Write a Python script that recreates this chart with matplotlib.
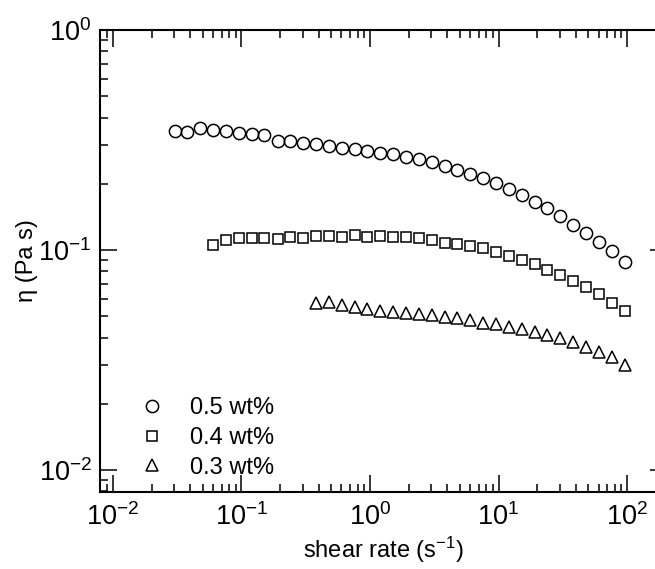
import matplotlib
matplotlib.use("Agg")
import matplotlib.pyplot as plt
from matplotlib.ticker import LogLocator, NullFormatter

plt.rcParams['font.family'] = ['Liberation Sans', 'DejaVu Sans']
plt.rcParams['mathtext.fontset'] = 'custom'
plt.rcParams['mathtext.rm'] = 'Liberation Sans'
plt.rcParams['mathtext.it'] = 'Liberation Sans:italic'
plt.rcParams['mathtext.bf'] = 'Liberation Sans:bold'

# shear rates (1/s), 10 points per decade
shear_rate = [0.0302, 0.0380, 0.0479, 0.0603, 0.0759, 0.0955, 0.120, 0.151, 0.191,
              0.240, 0.302, 0.380, 0.479, 0.603, 0.759, 0.955, 1.20, 1.51, 1.91,
              2.40, 3.02, 3.80, 4.79, 6.03, 7.59, 9.55, 12.0, 15.1, 19.1, 24.0,
              30.2, 38.0, 47.9, 60.3, 75.9, 95.5]

# viscosity (Pa s)
eta_05 = [0.349, 0.343, 0.360, 0.351, 0.349, 0.341, 0.336, 0.333, 0.314, 0.312,
          0.307, 0.302, 0.298, 0.292, 0.287, 0.282, 0.277, 0.272, 0.264, 0.259,
          0.250, 0.241, 0.231, 0.222, 0.212, 0.202, 0.189, 0.177, 0.166, 0.155,
          0.143, 0.130, 0.119, 0.109, 0.0993, 0.0885]
eta_04 = [0.1054, 0.111, 0.1137, 0.1137, 0.113, 0.1122, 0.1146, 0.1134, 0.1161,
          0.1154, 0.115, 0.117, 0.115, 0.1154, 0.1146, 0.1142, 0.113, 0.111,
          0.108, 0.1065, 0.1043, 0.1018, 0.0982, 0.0942, 0.0901, 0.0861, 0.0811,
          0.0769, 0.0722, 0.068, 0.0629, 0.0576, 0.053]
eta_03 = [0.0576, 0.0578, 0.0561, 0.055, 0.0537, 0.0526, 0.0521, 0.0517, 0.0512,
          0.0504, 0.0495, 0.049, 0.0479, 0.0465, 0.046, 0.0448, 0.0436, 0.0425,
          0.0412, 0.0398, 0.0383, 0.0363, 0.0343, 0.0325, 0.0301]

rate_05 = shear_rate
rate_04 = shear_rate[len(shear_rate) - len(eta_04):]
rate_03 = shear_rate[len(shear_rate) - len(eta_03):]

labels = ['0.5 wt%', '0.4 wt%', '0.3 wt%']

fig = plt.figure(figsize=(6.55, 5.69), dpi=100)
ax = fig.add_axes([100/655, 1 - 492/569, 567/655, 462/569])

ax.plot(rate_05, eta_05, 'o', ms=8.8, mfc='none', mec='black', mew=1.1, label=labels[0])
ax.plot(rate_04, eta_04, 's', ms=7.6, mfc='none', mec='black', mew=1.1, label=labels[1])
ax.plot(rate_03, eta_03, '^', ms=8.8, mfc='none', mec='black', mew=1.1, label=labels[2])

ax.set_xscale('log')
ax.set_yscale('log')
ax.set_xlim(10**-2.1, 10**2.31)
ax.set_ylim(10**-2.1, 1)

for a in (ax.xaxis, ax.yaxis):
    a.set_major_locator(LogLocator(base=10, numticks=20))
    a.set_minor_locator(LogLocator(base=10, subs=range(2, 10), numticks=20))
    a.set_minor_formatter(NullFormatter())

ax.tick_params(which='both', direction='in', top=True, right=True, width=1.1,
               labelsize=19.5, pad=6)
ax.tick_params(axis='x', which='major', pad=8)
ax.tick_params(which='major', length=12)
ax.tick_params(which='minor', length=5.5)
for s in ax.spines.values():
    s.set_linewidth(1.5)

ax.set_xlabel('shear rate (s$^{-1}$)', fontsize=17, labelpad=3)
ax.set_ylabel('η (Pa s)', fontsize=17, labelpad=0)

ax.legend(loc='upper left', bbox_to_anchor=(0.055, 0.225), frameon=False,
          fontsize=17, handlelength=1.0, handletextpad=1.1, labelspacing=0.32,
          borderaxespad=0)

fig.savefig('out.png', dpi=100)
